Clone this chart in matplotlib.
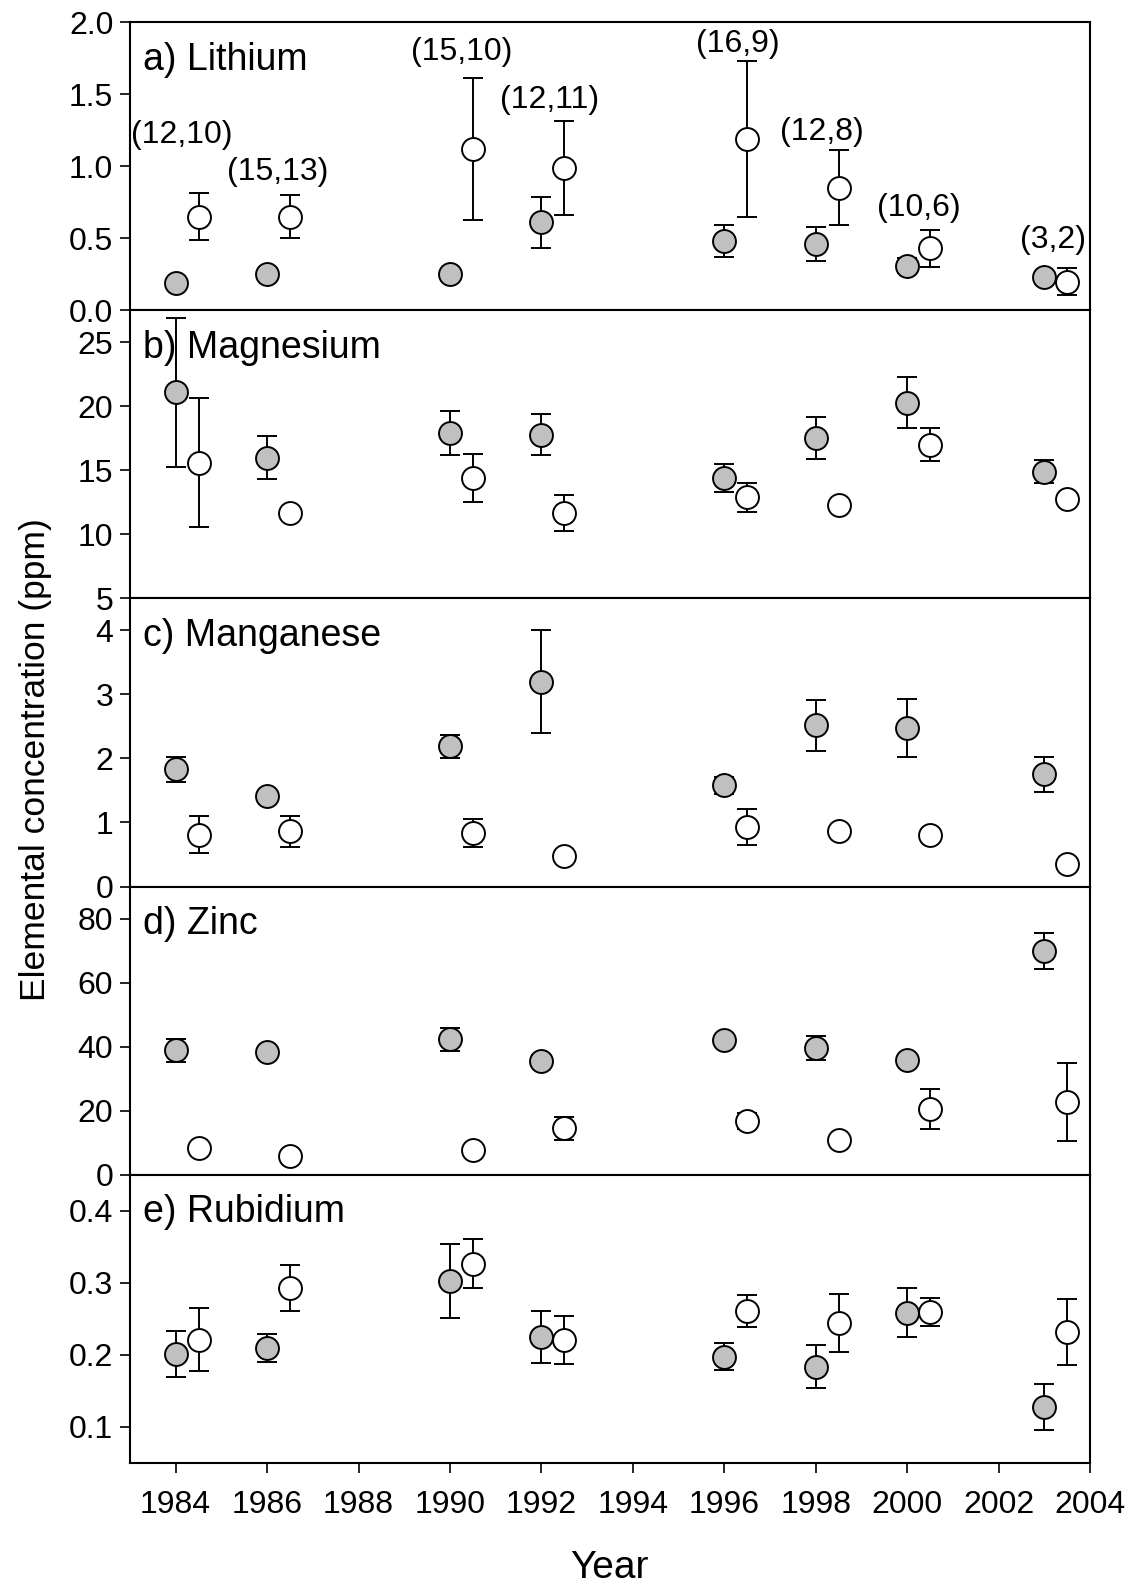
import numpy as np
import matplotlib.pyplot as plt

plt.rcParams['font.family'] = ['Liberation Sans', 'DejaVu Sans']

# sampling years: grey = first group, white = second group (plotted half a year later)
years = [1984, 1986, 1990, 1992, 1996, 1998, 2000, 2003]

# a) Lithium
li_grey = [0.19, 0.25, 0.25, 0.61, 0.48, 0.46, 0.31, 0.23]
li_grey_err = [0.0, 0.0, 0.0, 0.18, 0.11, 0.12, 0.05, 0.0]
li_white = [0.65, 0.65, 1.12, 0.99, 1.19, 0.85, 0.43, 0.20]
li_white_err = [0.165, 0.15, 0.49, 0.325, 0.54, 0.26, 0.127, 0.095]
li_n = ['(12,10)', '(15,13)', '(15,10)', '(12,11)', '(16,9)', '(12,8)', '(10,6)', '(3,2)']
li_n_x = [1984.14, 1986.23, 1990.25, 1992.17, 1996.3, 1998.13, 2000.25, 2003.2]
li_n_y = [1.22, 0.96, 1.79, 1.46, 1.85, 1.24, 0.71, 0.49]

# b) Magnesium
mg_grey = [21.1, 16.0, 17.9, 17.8, 14.4, 17.5, 20.3, 14.9]
mg_grey_err = [5.8, 1.65, 1.7, 1.6, 1.1, 1.65, 2.0, 0.9]
mg_white = [15.6, 11.7, 14.4, 11.7, 12.9, 12.3, 17.0, 12.8]
mg_white_err = [5.05, 0.3, 1.9, 1.4, 1.15, 0.3, 1.3, 0.0]

# c) Manganese
mn_grey = [1.83, 1.41, 2.19, 3.2, 1.58, 2.52, 2.48, 1.75]
mn_grey_err = [0.2, 0.0, 0.18, 0.81, 0.13, 0.4, 0.45, 0.27]
mn_white = [0.81, 0.86, 0.83, 0.47, 0.93, 0.87, 0.80, 0.35]
mn_white_err = [0.29, 0.24, 0.22, 0.0, 0.28, 0.06, 0.0, 0.0]

# d) Zinc
zn_grey = [38.8, 38.3, 42.3, 35.5, 41.9, 39.5, 35.8, 69.9]
zn_grey_err = [3.6, 0.0, 3.6, 1.8, 0.0, 3.7, 0.0, 5.6]
zn_white = [8.2, 5.8, 7.7, 14.4, 16.6, 10.8, 20.5, 22.7]
zn_white_err = [0.0, 0.0, 0.0, 3.7, 2.5, 0.0, 6.3, 12.2]

# e) Rubidium
rb_grey = [0.201, 0.209, 0.302, 0.225, 0.197, 0.183, 0.258, 0.127]
rb_grey_err = [0.032, 0.019, 0.051, 0.036, 0.019, 0.030, 0.034, 0.032]
rb_white = [0.221, 0.292, 0.326, 0.220, 0.261, 0.244, 0.259, 0.231]
rb_white_err = [0.044, 0.032, 0.034, 0.033, 0.022, 0.040, 0.019, 0.046]

panels = [
    ('a) Lithium', li_grey, li_grey_err, li_white, li_white_err, (0, 2.0), np.arange(0, 2.01, 0.5), '%.1f'),
    ('b) Magnesium', mg_grey, mg_grey_err, mg_white, mg_white_err, (5, 27.5), [5, 10, 15, 20, 25], '%d'),
    ('c) Manganese', mn_grey, mn_grey_err, mn_white, mn_white_err, (0, 4.5), [0, 1, 2, 3, 4], '%d'),
    ('d) Zinc', zn_grey, zn_grey_err, zn_white, zn_white_err, (0, 90), [0, 20, 40, 60, 80], '%d'),
    ('e) Rubidium', rb_grey, rb_grey_err, rb_white, rb_white_err, (0.05, 0.45), [0.1, 0.2, 0.3, 0.4], '%.1f'),
]

fig, axes = plt.subplots(5, 1, sharex=True, figsize=(11.33, 15.89), dpi=100,
                         gridspec_kw={'hspace': 0})
fig.subplots_adjust(left=0.1147, right=0.962, top=0.986, bottom=0.0795)

x_grey = np.array(years, dtype=float)
x_white = x_grey + 0.5

for ax, (label, g, ge, w, we, ylim, yt, fmt) in zip(axes, panels):
    ax.errorbar(x_grey, g, yerr=ge, fmt='o', ms=16.5, mfc='#c0c0c0', mec='black', mew=1.4,
                ecolor='black', elinewidth=1.4, capsize=7, capthick=1.4, zorder=3)
    ax.errorbar(x_white, w, yerr=we, fmt='o', ms=16.5, mfc='white', mec='black', mew=1.4,
                ecolor='black', elinewidth=1.4, capsize=7, capthick=1.4, zorder=4)
    ax.set_ylim(*ylim)
    ax.set_yticks(yt)
    ax.set_yticklabels([fmt % v for v in yt])
    ax.text(0.014, 0.87, label, transform=ax.transAxes, ha='left', va='center', fontsize=27)
    ax.tick_params(direction='out', length=7, width=1.2, labelsize=23, pad=5)
    ax.tick_params(axis='x', labelsize=23, pad=13)
    for s in ax.spines.values():
        s.set_linewidth(1.5)

for s, tx, ty in zip(li_n, li_n_x, li_n_y):
    axes[0].text(tx, ty, s, ha='center', va='center', fontsize=23)

axes[-1].set_xlim(1983, 2004)
axes[-1].set_xticks(np.arange(1984, 2005, 2))

fig.text(0.031, 0.522, 'Elemental concentration (ppm)', rotation=90, ha='center', va='center', fontsize=25.5)
fig.text(0.538, 0.013, 'Year', ha='center', va='center', fontsize=28)

fig.savefig('out.png', dpi=100)
